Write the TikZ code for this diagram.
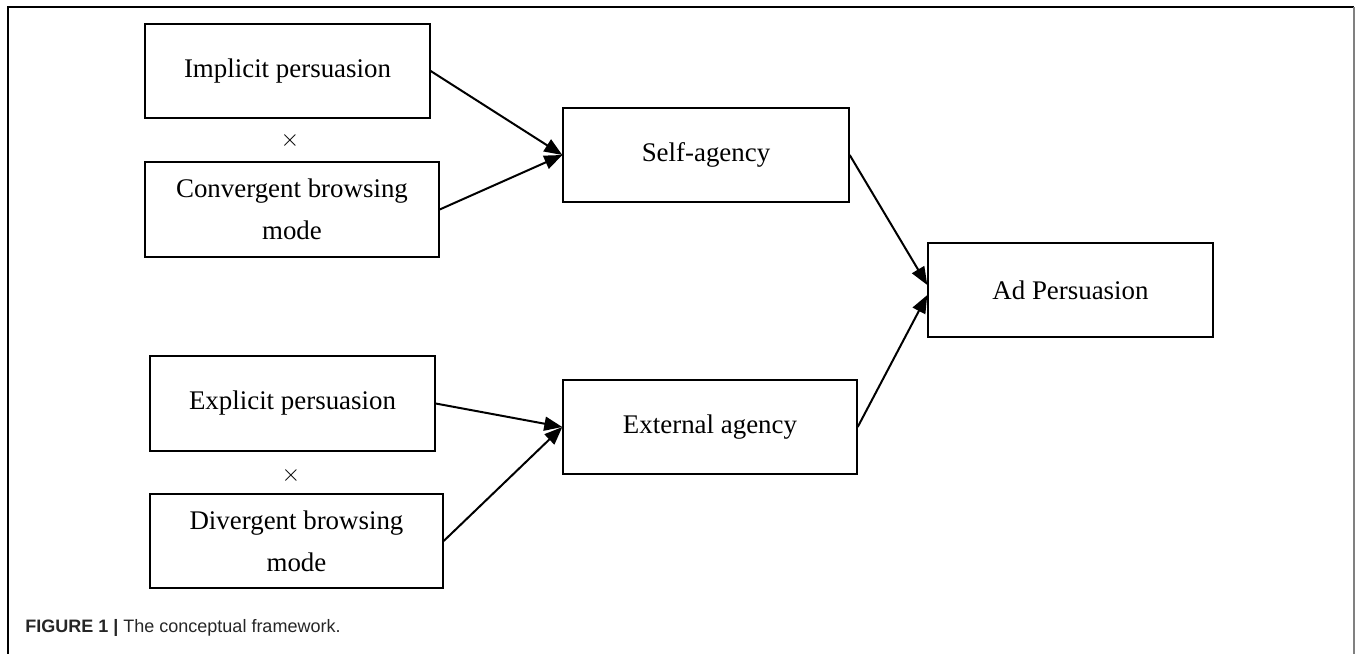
\documentclass[tikz,border=0pt]{standalone}
\usepackage{fontspec}
\setmainfont{Liberation Serif}
\newfontfamily\capfont{Liberation Sans}
\usetikzlibrary{arrows.meta}
\begin{document}
\begin{tikzpicture}[x=0.5pt,y=-0.5pt, line join=miter,
        box/.style={draw, line width=0.7pt, align=center, inner sep=0pt,
            font=\fontsize{13.45}{21}\selectfont},
        link/.style={line width=1pt, -{Triangle[length=9pt,width=7pt]}}]
        \useasboundingbox (0,0) rectangle (1357,654);
        % frame
        \draw[line width=1pt] (8,654) -- (8,7) -- (1354,7);
        \draw[gray, line width=1.2pt] (1354,7) -- (1354,654);

        \node[box, minimum width=142.5pt, minimum height=47pt] (implicit) at (287.5,71) {Implicit persuasion};
        \node[font=\fontsize{13}{15}\selectfont] (times1) at (290,140) {$\times$};
        \node[box, minimum width=147pt, minimum height=47.5pt] (convergent) at (292,209.5) {Convergent browsing\\mode};
        \node[box, minimum width=143pt, minimum height=47pt] (selfagency) at (706,155) {Self-agency};

        \node[box, minimum width=142.5pt, minimum height=47.5pt] (explicit) at (292.5,403.5) {Explicit persuasion};
        \node[font=\fontsize{13}{15}\selectfont] (times2) at (291,475) {$\times$};
        \node[box, minimum width=146.5pt, minimum height=47pt] (divergent) at (296.5,541) {Divergent browsing\\mode};
        \node[box, minimum width=147pt, minimum height=47pt] (external) at (710,427) {External agency};

        \node[box, minimum width=142.5pt, minimum height=47pt] (adpersuasion) at (1070.5,290) {Ad Persuasion};

        \draw[link] (implicit.east) -- (selfagency.west);
        \draw[link] (convergent.east) -- (selfagency.west);
        \draw[link] (explicit.east) -- (external.west);
        \draw[link] (divergent.east) -- (external.west);
        \draw[link] (selfagency.east) -- ([yshift=2.5pt]adpersuasion.west);
        \draw[link] (external.east) -- ([yshift=-2.5pt]adpersuasion.west);

        \node[anchor=west, inner sep=0pt, text=black!85] (caption) at (25,628)
            {\capfont\fontsize{9}{11}\selectfont\textbf{FIGURE 1 |} The conceptual framework.};
    \end{tikzpicture}
\end{document}
